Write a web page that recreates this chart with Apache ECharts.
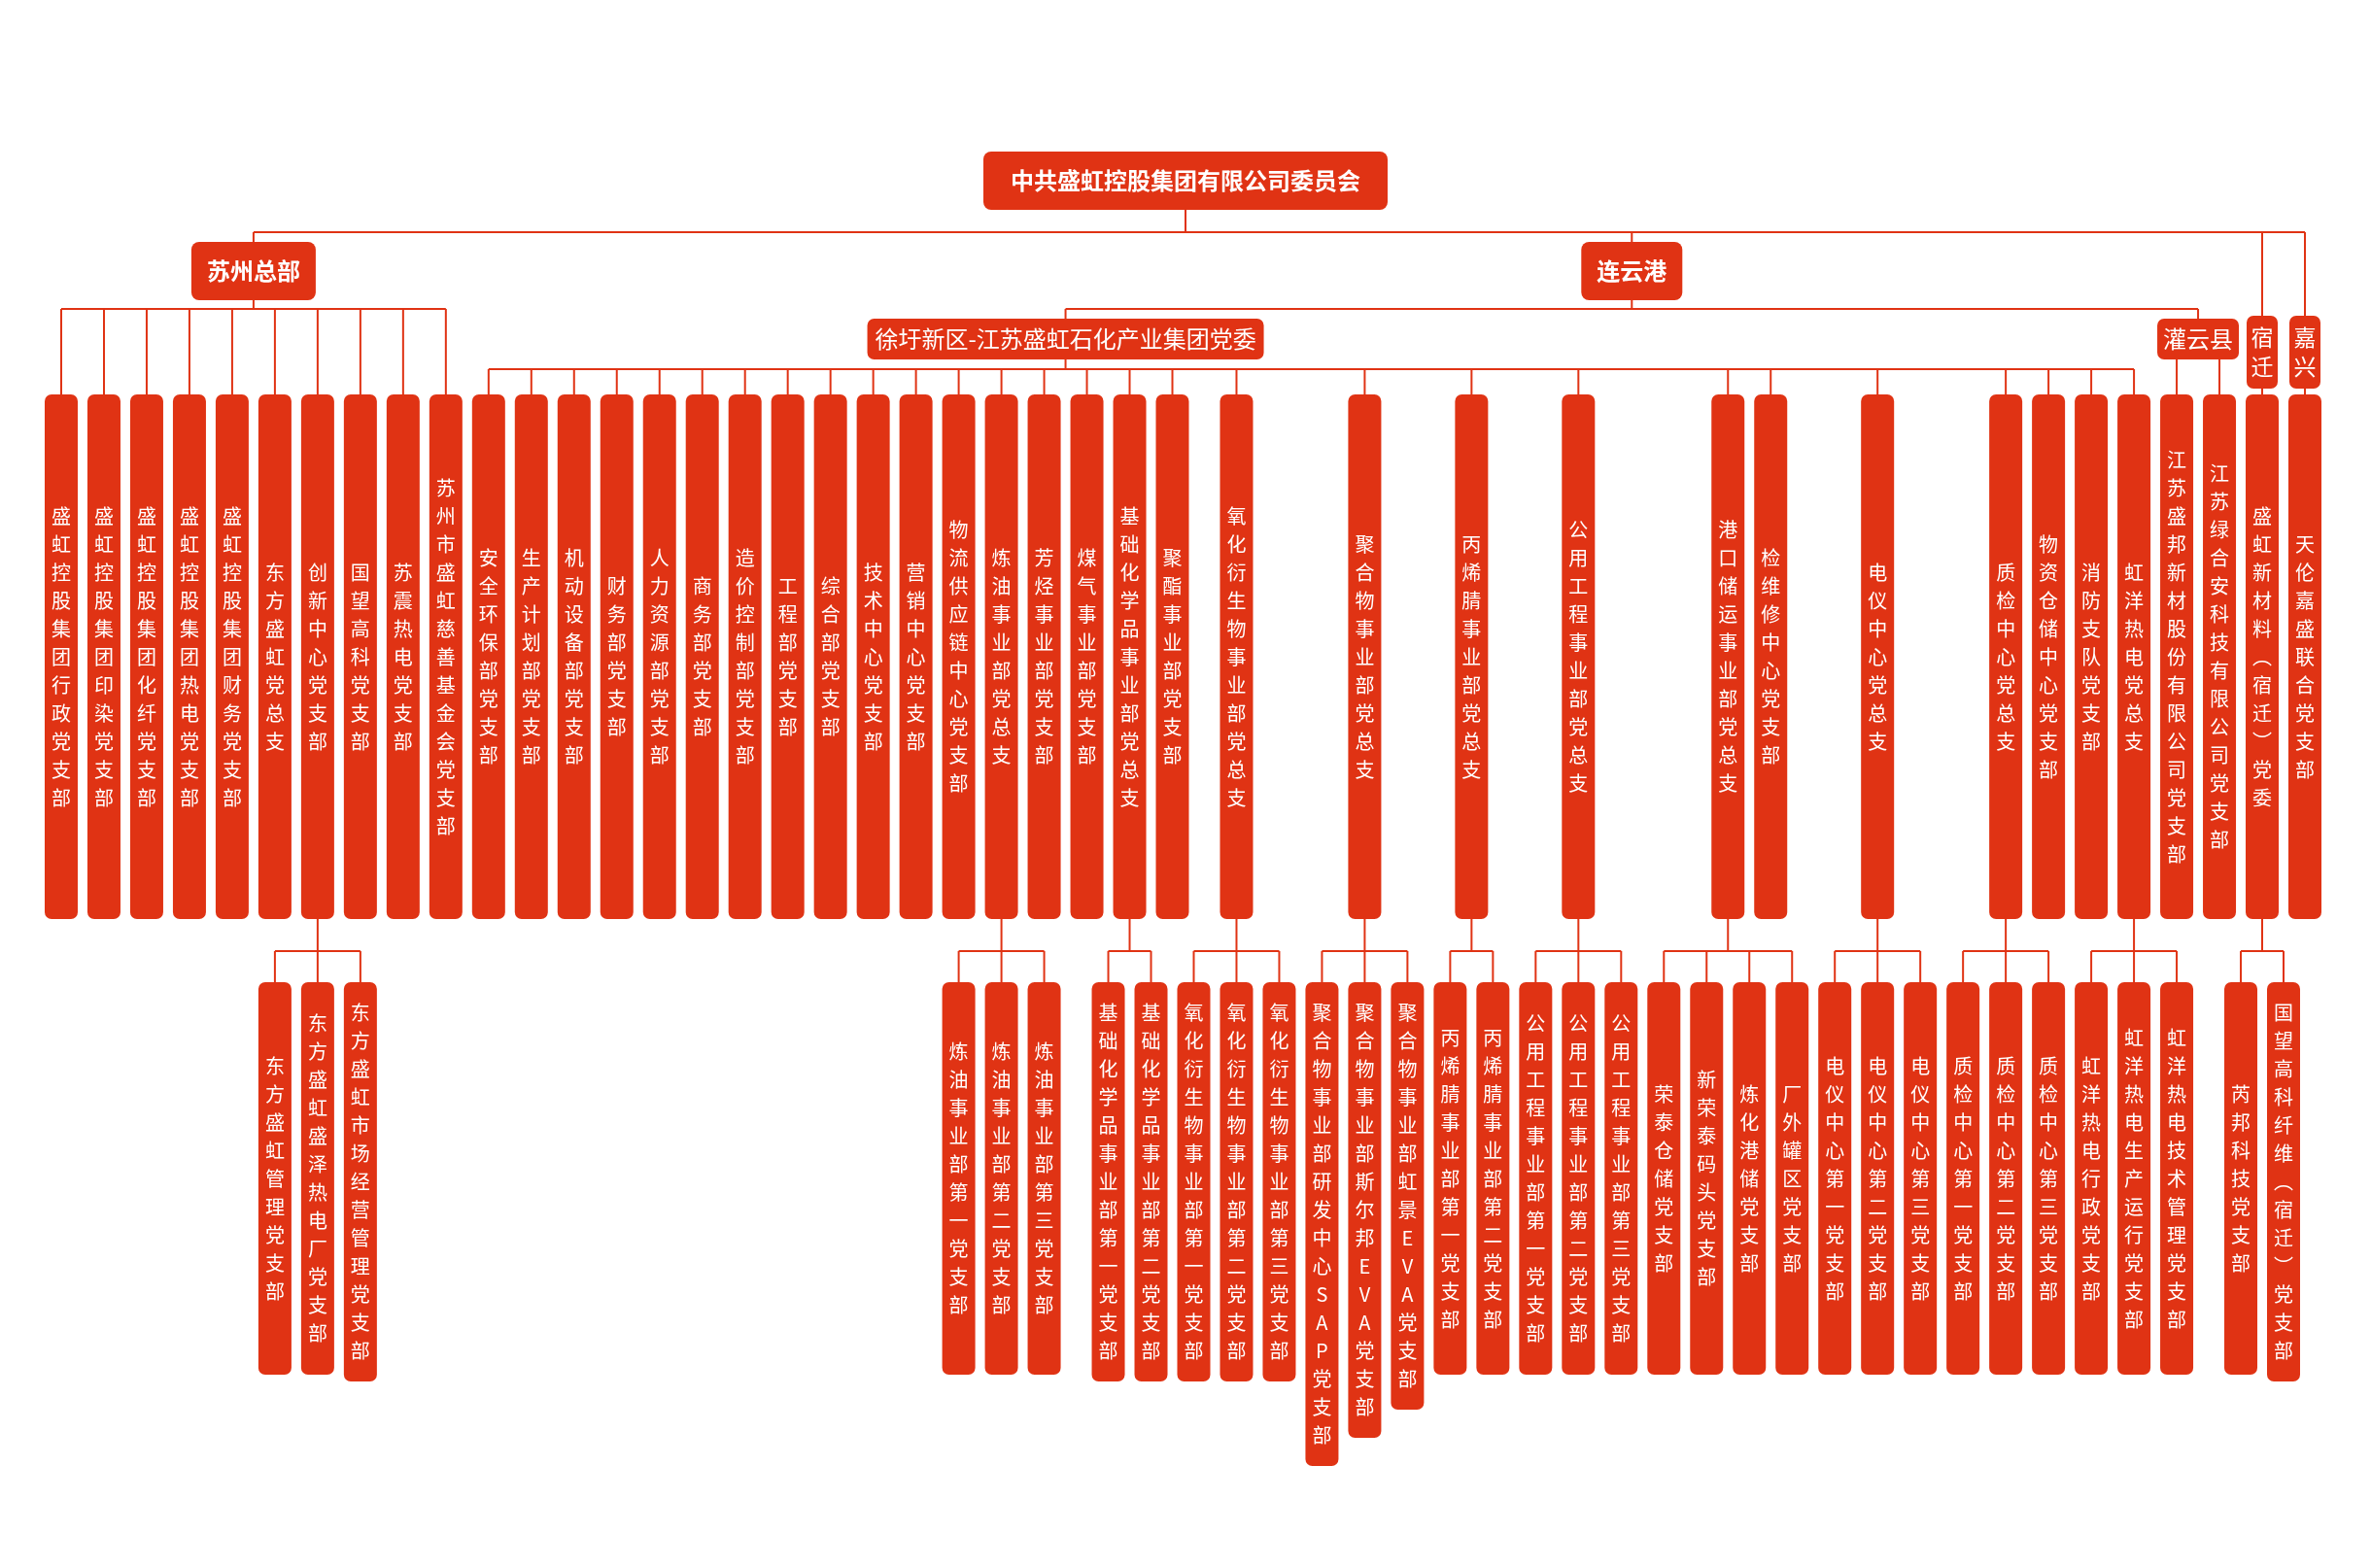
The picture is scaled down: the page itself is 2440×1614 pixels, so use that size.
<!DOCTYPE html>
<html>
<head>
<meta charset="utf-8">
<script src="https://cdn.jsdelivr.net/npm/echarts@6/dist/echarts.min.js"></script>
<style>
html,body{margin:0;padding:0;background:#ffffff;overflow:hidden;}
#chart{width:2440px;height:1614px;}
</style>
</head>
<body>
<div id="chart"></div>
<script>
// ================= DATA =================
const rootName = '中共盛虹控股集团有限公司委员会';
const regionNames = ['苏州总部', '连云港', '宿迁', '嘉兴'];
const lianyungangGroups = ['徐圩新区-江苏盛虹石化产业集团党委', '灌云县'];

const suzhouUnits = [
  '盛虹控股集团行政党支部', '盛虹控股集团印染党支部', '盛虹控股集团化纤党支部',
  '盛虹控股集团热电党支部', '盛虹控股集团财务党支部', '东方盛虹党总支',
  '创新中心党支部', '国望高科党支部', '苏震热电党支部', '苏州市盛虹慈善基金会党支部'
];
const xuweiUnits = [
  '安全环保部党支部', '生产计划部党支部', '机动设备部党支部', '财务部党支部',
  '人力资源部党支部', '商务部党支部', '造价控制部党支部', '工程部党支部',
  '综合部党支部', '技术中心党支部', '营销中心党支部', '物流供应链中心党支部',
  '炼油事业部党总支', '芳烃事业部党支部', '煤气事业部党支部', '基础化学品事业部党总支',
  '聚酯事业部党支部', '氧化衍生物事业部党总支', '聚合物事业部党总支', '丙烯腈事业部党总支',
  '公用工程事业部党总支', '港口储运事业部党总支', '检维修中心党支部', '电仪中心党总支',
  '质检中心党总支', '物资仓储中心党支部', '消防支队党支部', '虹洋热电党总支'
];
const guanyunUnits = ['江苏盛邦新材股份有限公司党支部', '江苏绿合安科技有限公司党支部'];
const suqianUnits = ['盛虹新材料（宿迁）党委'];
const jiaxingUnits = ['天伦嘉盛联合党支部'];

const chuangxinBranches = ['东方盛虹管理党支部', '东方盛虹盛泽热电厂党支部', '东方盛虹市场经营管理党支部'];
const lianyouBranches = ['炼油事业部第一党支部', '炼油事业部第二党支部', '炼油事业部第三党支部'];
const jichuBranches = ['基础化学品事业部第一党支部', '基础化学品事业部第二党支部'];
const yanghuaBranches = ['氧化衍生物事业部第一党支部', '氧化衍生物事业部第二党支部', '氧化衍生物事业部第三党支部'];
const juhewuBranches = ['聚合物事业部研发中心SAP党支部', '聚合物事业部斯尔邦EVA党支部', '聚合物事业部虹景EVA党支部'];
const bingxijingBranches = ['丙烯腈事业部第一党支部', '丙烯腈事业部第二党支部'];
const gongyongBranches = ['公用工程事业部第一党支部', '公用工程事业部第二党支部', '公用工程事业部第三党支部'];
const gangkouBranches = ['荣泰仓储党支部', '新荣泰码头党支部', '炼化港储党支部', '厂外罐区党支部'];
const dianyiBranches = ['电仪中心第一党支部', '电仪中心第二党支部', '电仪中心第三党支部'];
const zhijianBranches = ['质检中心第一党支部', '质检中心第二党支部', '质检中心第三党支部'];
const hongyangBranches = ['虹洋热电行政党支部', '虹洋热电生产运行党支部', '虹洋热电技术管理党支部'];
const xincailiaoBranches = ['芮邦科技党支部', '国望高科纤维（宿迁）党支部'];

const branchParents = [
  ['创新中心党支部', chuangxinBranches],
  ['炼油事业部党总支', lianyouBranches],
  ['基础化学品事业部党总支', jichuBranches],
  ['氧化衍生物事业部党总支', yanghuaBranches],
  ['聚合物事业部党总支', juhewuBranches],
  ['丙烯腈事业部党总支', bingxijingBranches],
  ['公用工程事业部党总支', gongyongBranches],
  ['港口储运事业部党总支', gangkouBranches],
  ['电仪中心党总支', dianyiBranches],
  ['质检中心党总支', zhijianBranches],
  ['虹洋热电党总支', hongyangBranches],
  ['盛虹新材料（宿迁）党委', xincailiaoBranches]
];

// ================= STYLE / LAYOUT CONSTANTS =================
const RED = '#E03314';
const FONT = '"Noto Sans CJK SC", "Noto Sans", sans-serif';
const W = 2440, H = 1614;
const FIRST_COL_PX = 63, LAST_COL_PX = 2372;
const LEVELS = [
  {top: 156, h: 60, fs: 24, bold: true, pad: 28, r: 8},
  {top: 249, h: 60, fs: 24, bold: true, pad: 16, r: 8},
  {top: 328, h: 42, fs: 24, bold: false, pad: 6, r: 7},
  {top: 406, h: 540, fs: 20, lh: 29, w: 34, r: 7},
  {top: 1011, minH: 404, fs: 20, lh: 29, w: 34, r: 7}
];
const VERT_L2 = {top: 325, h: 75, w: 32, fs: 23, lh: 30, r: 7};
const FORK_Y = [239, 318, 380, 979];

// ================= TREE BUILD =================
function mk(name, level, children, vertical) {
  return {name: name, level: level, children: children || [], vertical: !!vertical};
}
function unitNode(name) {
  const b = branchParents.find(p => p[0] === name);
  return mk(name, 3, b ? b[1].map(n => mk(n, 4)) : []);
}
const root = mk(rootName, 0, [
  mk(regionNames[0], 1, suzhouUnits.map(unitNode)),
  mk(regionNames[1], 1, [
    mk(lianyungangGroups[0], 2, xuweiUnits.map(unitNode)),
    mk(lianyungangGroups[1], 2, guanyunUnits.map(unitNode))
  ]),
  mk(regionNames[2], 2, suqianUnits.map(unitNode), true),
  mk(regionNames[3], 2, jiaxingUnits.map(unitNode), true)
]);

// ================= TIDY LAYOUT (slot units) =================
const columns = [];
(function collect(n) { if (n.level === 3) { columns.push(n); return; } n.children.forEach(collect); })(root);
let free3 = 0, free4 = 0;
columns.forEach(c => {
  const k = c.children.length;
  let x = free3;
  if (k) {
    x = Math.max(free3, free4 + (k - 1) / 2);
    c.children.forEach((ch, i) => { ch.x = x - (k - 1) / 2 + i; });
    free4 = x + (k - 1) / 2 + 1;
  }
  c.x = x;
  free3 = x + 1;
});
function place(n) {
  if (n.level >= 3) return n.x;
  const xs = n.children.map(place);
  const k = xs.length;
  n.x = k % 2 ? xs[(k - 1) / 2] : (xs[k / 2 - 1] + xs[k / 2]) / 2;
  return n.x;
}
place(root);
const maxSlot = Math.max.apply(null, columns.map(c => c.x));
const pitch = (LAST_COL_PX - FIRST_COL_PX) / maxSlot;
const xMin = -FIRST_COL_PX / pitch;
const xMax = (W - FIRST_COL_PX) / pitch;
root.x = (xMin + xMax) / 2;

// flatten
const nodes = [];
(function flat(n) { nodes.push(n); n.children.forEach(flat); })(root);

function textWidth(s, fs) {
  let w = 0;
  for (const ch of s) w += /[\u2E80-\uFFFF]/.test(ch) ? fs : fs * 0.5;
  return w;
}
function vText(s) {
  return Array.from(s.replace(/（/g, '︵').replace(/）/g, '︶')).join('\n');
}
function geom(n) {
  if (n.vertical) {
    return {top: VERT_L2.top, h: VERT_L2.h, w: VERT_L2.w, r: VERT_L2.r, fs: VERT_L2.fs, lh: VERT_L2.lh,
      text: vText(n.name), bold: false};
  }
  const L = LEVELS[n.level];
  if (n.level <= 2) {
    return {top: L.top, h: L.h, w: textWidth(n.name, L.fs) + 2 * L.pad, r: L.r, fs: L.fs, lh: L.fs * 1.2,
      text: n.name, bold: L.bold};
  }
  const count = Array.from(n.name).length;
  const h = n.level === 3 ? L.h : Math.max(L.minH, count * L.lh + 34);
  return {top: L.top, h: h, w: L.w, r: L.r, fs: L.fs, lh: L.lh, text: vText(n.name), bold: false};
}

// edges as segments [x1, y1, x2, y2] (x in slots, y in px rows)
const segments = [];
nodes.forEach(p => {
  if (!p.children.length) return;
  const pg = geom(p);
  const pBottom = pg.top + pg.h;
  if (p.children.length === 1 && Math.abs(p.children[0].x - p.x) < 1e-6) {
    segments.push([p.x, pBottom, p.x, geom(p.children[0]).top]);
    return;
  }
  const xs = p.children.map(c => c.x).concat([p.x]);
  const lo = Math.min.apply(null, xs), hi = Math.max.apply(null, xs);
  // when the box is wide enough to cover all child drops, the fork hides behind the box
  const covered = (hi - lo) * pitch < pg.w - 10;
  const fy = covered ? pg.top + pg.h / 2 : FORK_Y[p.level];
  if (!covered) segments.push([p.x, pBottom, p.x, fy]);
  segments.push([lo, fy, hi, fy]);
  p.children.forEach(c => segments.push([c.x, fy, c.x, geom(c).top]));
});

// ================= CHART =================
const chart = echarts.init(document.getElementById('chart'));
chart.setOption({
  backgroundColor: '#ffffff',
  animation: false,
  grid: {left: 0, right: 0, top: 0, bottom: 0},
  xAxis: {type: 'value', min: xMin, max: xMax, show: false},
  yAxis: {type: 'value', min: 0, max: H, inverse: true, show: false},
  series: [
    {
      type: 'custom',
      name: 'links',
      silent: true,
      z: 1,
      data: segments,
      encode: {x: [0, 2], y: [1, 3]},
      renderItem: function (params, api) {
        const a = api.coord([api.value(0), api.value(1)]);
        const b = api.coord([api.value(2), api.value(3)]);
        return {type: 'line', shape: {x1: a[0], y1: a[1], x2: b[0], y2: b[1]},
          style: {stroke: RED, lineWidth: 2}};
      }
    },
    {
      type: 'custom',
      name: 'nodes',
      z: 2,
      data: nodes.map((n, i) => [n.x, geom(n).top, i]),
      encode: {x: 0, y: 1},
      renderItem: function (params, api) {
        const n = nodes[params.dataIndex];
        const g = geom(n);
        const c = api.coord([n.x, g.top]);
        const bottom = api.coord([n.x, g.top + g.h])[1];
        const h = bottom - c[1];
        return {
          type: 'group',
          children: [
            {type: 'rect', shape: {x: c[0] - g.w / 2, y: c[1], width: g.w, height: h, r: g.r},
              style: {fill: RED}},
            {type: 'text', style: {
              x: c[0], y: c[1] + h / 2, text: g.text, fill: '#ffffff',
              fontSize: g.fs, fontFamily: FONT, fontWeight: g.bold ? 'bold' : 'normal',
              lineHeight: g.lh, align: 'center', verticalAlign: 'middle'
            }}
          ]
        };
      }
    }
  ]
});
</script>
</body>
</html>
